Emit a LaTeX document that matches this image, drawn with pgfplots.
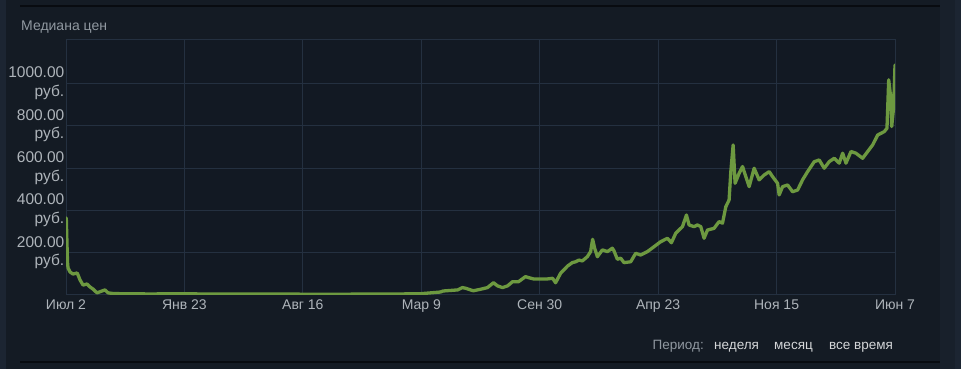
\documentclass[border=0pt]{standalone}
\usepackage{pgfplots}
\pgfplotsset{compat=1.18}
\usepackage{fontspec}
\setmainfont{Liberation Sans}
\definecolor{bg}{HTML}{141B24}
\definecolor{plotbg}{HTML}{121923}
\definecolor{gridc}{HTML}{243040}
\definecolor{linec}{HTML}{6D9940}
\definecolor{tickc}{HTML}{AEB4BA}
\definecolor{titlec}{HTML}{9098A0}
\definecolor{optc}{HTML}{D4D6D8}
\definecolor{sepc}{HTML}{080B10}
\definecolor{stripa}{HTML}{18202B}
\definecolor{stripb}{HTML}{1C2532}
\begin{document}
\begin{tikzpicture}
\useasboundingbox (0pt,0pt) rectangle (961pt,369pt);
\fill[bg] (0pt,0pt) rectangle (961pt,369pt);
\fill[stripb] (0pt,0pt) rectangle (6pt,369pt);
\fill[stripa] (940pt,0pt) rectangle (955pt,369pt);
\fill[stripb] (955pt,0pt) rectangle (961pt,369pt);
\fill[sepc] (20pt,362pt) rectangle (940pt,364pt);
\fill[sepc] (20pt,5.5pt) rectangle (940pt,7.5pt);
\node[anchor=base west, inner sep=0pt, text=titlec, font=\fontsize{14}{17}\selectfont] at (21pt,338.5pt) {Медиана цен};
\node[anchor=base east, inner sep=0pt, text=titlec, font=\fontsize{13.5}{16}\selectfont] at (704pt,19pt) {Период:};
\node[anchor=base west, inner sep=0pt, text=optc, font=\fontsize{13.5}{16}\selectfont] at (714pt,19pt) {неделя};
\node[anchor=base west, inner sep=0pt, text=optc, font=\fontsize{13.5}{16}\selectfont] at (774pt,19pt) {месяц};
\node[anchor=base west, inner sep=0pt, text=optc, font=\fontsize{13.5}{16}\selectfont] at (829pt,19pt) {все время};
\begin{axis}[
  at={(66pt,74pt)}, anchor=south west,
  scale only axis, width=829pt, height=255pt,
  xmin=0, xmax=1435, ymin=0, ymax=1205,
  axis background/.style={fill=plotbg},
  axis line style={draw=gridc, line width=1pt},
  grid=major, major grid style={draw=gridc, line width=1pt},
  major tick length=0pt,
  xtick={0,205,410,615,820,1025,1230,1435},
  xticklabels={Июл 2, Янв 23, Авг 16, Мар 9, Сен 30, Апр 23, Ноя 15, Июн 7},
  xticklabel style={anchor=north, inner sep=0pt, yshift=-5pt, text=tickc, font=\fontsize{14}{17}\selectfont},
  ytick={200,400,600,800,1000},
  yticklabels={{200.00\\руб.},{400.00\\руб.},{600.00\\руб.},{800.00\\руб.},{1000.00\\руб.}},
  yticklabel style={anchor=east, align=right, inner sep=0pt, xshift=-1.5pt, text=tickc, font=\fontsize{15.5}{18.5}\selectfont},
  clip=true,
]
\addplot[linec, line width=3.3pt, line join=round, line cap=round] coordinates {
(0.5,364) (2.6,156) (3.5,128) (6.9,109) (12.1,99) (19.1,104) (20.8,95) (24.3,71)
(29.5,47) (36.4,52) (41.6,38) (46.8,28) (53.7,10) (62.4,19) (67.6,24) (72.8,10)
(81.5,7) (98.8,6) (145.6,5) (206,6) (232,5) (319,5) (405.5,4) (492,4) (579,5) (613.5,6)
(648,14) (653,19) (678,24) (686,35) (691.5,32) (705,20) (717.5,27) (729.6,35)
(740,58) (747,43) (755.6,35) (764.3,43) (773,63) (783.4,63) (795.5,87) (800.7,82)
(809.4,76) (833.6,76) (842.3,79) (847.5,58) (856.2,103) (868.3,137) (876.4,153)
(882.1,157) (887.9,165) (893.8,161) (902.4,181) (908.1,205) (911.6,263) (915.1,221)
(919.8,181) (928.4,213) (937.1,205) (945.7,221) (948.5,209) (954.4,169) (960.1,174)
(965.9,153) (977.5,157) (986.1,197) (994.8,189) (1006.4,205) (1017.8,228) (1029.5,252)
(1041.1,268) (1048,247) (1055.5,292) (1067.1,323) (1074,378) (1078.5,331) (1087.2,323)
(1093,331) (1098.8,323) (1104.5,268) (1110.4,307) (1121.8,315) (1130.5,347) (1136.4,339)
(1142.1,417) (1147.8,449) (1150.8,583) (1154.8,709) (1158.2,528) (1165.2,575) (1171.1,607)
(1176.8,559) (1182.5,512) (1191.2,599) (1199.8,544) (1208.5,567) (1217.2,583) (1223.1,559)
(1231.7,528) (1234.5,473) (1240.4,512) (1249.1,520) (1257.7,488) (1266.4,496) (1275.0,544)
(1283.7,583) (1295.2,630) (1303.8,638) (1312.5,599) (1321.1,630) (1329.8,646) (1338.5,623)
(1344.4,670) (1350.1,623) (1358.8,678) (1367.4,670) (1379.0,646) (1387.7,678) (1396.3,709)
(1405.0,756) (1416.4,772) (1421.1,788) (1424.1,1017) (1428.1,922) (1429.3,796) (1432.7,890)
(1435,1087)
};
\end{axis}
\end{tikzpicture}
\end{document}
